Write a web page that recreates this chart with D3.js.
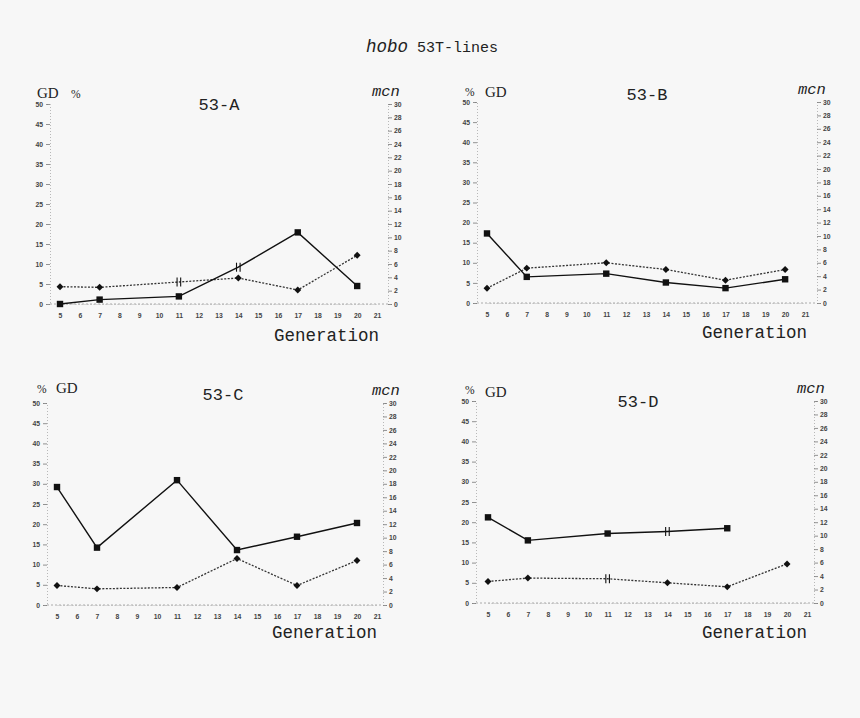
<!DOCTYPE html>
<html><head><meta charset="utf-8">
<script src="https://cdn.jsdelivr.net/npm/d3@7"></script>
<style>
html,body{margin:0;padding:0;background:#f7f7f7;}
svg{display:block;}
</style></head>
<body>
<svg id="chart" width="860" height="718"></svg>
<script>
// ---- data ----
const gdTicks = [0,5,10,15,20,25,30,35,40,45,50];
const mcnTicks = [0,2,4,6,8,10,12,14,16,18,20,22,24,26,28,30];
const genTicks = [5,6,7,8,9,10,11,12,13,14,15,16,17,18,19,20,21];

const panelNames = ["53-A","53-B","53-C","53-D"];

const genA_gd = [5,7,11,14,17,20];
const valA_gd = [0,1.1,1.9,9.2,17.9,4.5];
const genA_mcn = [5,7,11,14,17,20];
const valA_mcn = [2.6,2.5,3.3,3.9,2.1,7.3];
const breakA_gd = [14];
const breakA_mcn = [11];

const genB_gd = [5,7,11,14,17,20];
const valB_gd = [17.3,6.5,7.3,5.1,3.7,5.9];
const genB_mcn = [5,7,11,14,17,20];
const valB_mcn = [2.2,5.2,6.0,5.0,3.4,5.0];
const breakB_gd = [];
const breakB_mcn = [];

const genC_gd = [5,7,11,14,17,20];
const valC_gd = [29.2,14.2,30.9,13.6,16.9,20.3];
const genC_mcn = [5,7,11,14,17,20];
const valC_mcn = [2.9,2.4,2.6,6.9,2.9,6.6];
const breakC_gd = [];
const breakC_mcn = [];

const genD_gd = [5,7,11,14,17];
const valD_gd = [21.2,15.5,17.2,17.7,18.5];
const genD_mcn = [5,7,11,14,17,20];
const valD_mcn = [3.2,3.7,3.6,3.0,2.4,5.8];
const breakD_gd = [14];
const breakD_mcn = [11];

// ---- layout ----
const layouts = [
  {x5:60, x21:377, yb:304, yt:104, lx:50, rx:388,
   gd:[37,98], pct:[71,98], name:[219,110], mcn:[372,96], gen:[274,341]},
  {x5:487, x21:805, yb:303, yt:102, lx:477, rx:817,
   gd:[485,97], pct:[465,96], name:[647,100], mcn:[798,94], gen:[702,338]},
  {x5:57, x21:377, yb:605, yt:403, lx:47, rx:383,
   gd:[56,393], pct:[37,393], name:[223,400], mcn:[372,395], gen:[272,638]},
  {x5:488, x21:807, yb:603, yt:401, lx:476, rx:814,
   gd:[485,397], pct:[465,394], name:[638,407], mcn:[797,393], gen:[702,638]}
];

const series = [
  {gdG:genA_gd, gdV:valA_gd, mG:genA_mcn, mV:valA_mcn, gdB:breakA_gd, mB:breakA_mcn},
  {gdG:genB_gd, gdV:valB_gd, mG:genB_mcn, mV:valB_mcn, gdB:breakB_gd, mB:breakB_mcn},
  {gdG:genC_gd, gdV:valC_gd, mG:genC_mcn, mV:valC_mcn, gdB:breakC_gd, mB:breakC_mcn},
  {gdG:genD_gd, gdV:valD_gd, mG:genD_mcn, mV:valD_mcn, gdB:breakD_gd, mB:breakD_mcn}
];

const svg = d3.select("#chart");
const mono = "'Liberation Mono','DejaVu Sans Mono',monospace";
const serif = "'Liberation Serif','DejaVu Serif',serif";
const sans = "'Liberation Sans',Arial,sans-serif";

// main title
const t = svg.append("text").attr("x",432).attr("y",52).attr("text-anchor","middle")
  .attr("fill","#222");
t.append("tspan").attr("font-family",mono).attr("font-style","italic").attr("font-size",17.5).text("hobo");
t.append("tspan").attr("font-family",mono).attr("font-size",15).text(" 53T-lines");

layouts.forEach((L,i)=>{
  const S = series[i];
  const g = svg.append("g");
  const x = d3.scaleLinear().domain([5,21]).range([L.x5,L.x21]);
  const y = d3.scaleLinear().domain([0,50]).range([L.yb,L.yt]);
  const yR = d3.scaleLinear().domain([0,30]).range([L.yb,L.yt]);

  const ax = g.append("g").attr("transform",`translate(${L.lx},0)`)
    .call(d3.axisLeft(y).tickValues(gdTicks).tickSize(4).tickPadding(3));
  const ar = g.append("g").attr("transform",`translate(${L.rx},0)`)
    .call(d3.axisRight(yR).tickValues(mcnTicks).tickSize(4).tickPadding(2));
  const ab = g.append("g").attr("transform",`translate(0,${L.yb})`)
    .call(d3.axisBottom(x).tickValues(genTicks).tickSize(0).tickPadding(9));
  [ax,ar,ab].forEach(a=>{
    a.select(".domain").attr("stroke","#b8b8b8").attr("stroke-dasharray","1,2").attr("stroke-width",1);
    a.selectAll(".tick line").attr("stroke","#777").attr("stroke-width",0.8);
    a.selectAll(".tick text").attr("font-family",sans).attr("font-size",6.8)
      .attr("font-weight","bold").attr("fill","#444");
  });
  g.append("line").attr("x1",L.lx).attr("x2",L.rx).attr("y1",y(0)).attr("y2",y(0))
    .attr("stroke","#aaa").attr("stroke-dasharray","2,2").attr("stroke-width",1);

  const gdData = S.gdG.map((gg,k)=>({g:gg,v:S.gdV[k]}));
  const mData = S.mG.map((gg,k)=>({g:gg,v:S.mV[k]}));
  g.append("path").datum(mData)
    .attr("d",d3.line().x(d=>x(d.g)).y(d=>yR(d.v)))
    .attr("fill","none").attr("stroke","#333").attr("stroke-width",1.3)
    .attr("stroke-dasharray","2,1.5");
  g.append("path").datum(gdData)
    .attr("d",d3.line().x(d=>x(d.g)).y(d=>y(d.v)))
    .attr("fill","none").attr("stroke","#111").attr("stroke-width",1.4);

  g.selectAll(".sq").data(gdData.filter(d=>!S.gdB.includes(d.g))).join("rect")
    .attr("x",d=>x(d.g)-3.2).attr("y",d=>y(d.v)-3.2).attr("width",6.4).attr("height",6.4)
    .attr("fill","#111");
  g.selectAll(".dm").data(mData.filter(d=>!S.mB.includes(d.g))).join("path")
    .attr("d",d3.symbol().type(d3.symbolSquare).size(24))
    .attr("transform",d=>`translate(${x(d.g)},${yR(d.v)}) rotate(45)`)
    .attr("fill","#111");
  const brk = (cx,cy)=>{
    [-1.8,1.8].forEach(dx=>{
      g.append("line").attr("x1",cx+dx).attr("x2",cx+dx).attr("y1",cy-4.5).attr("y2",cy+4.5)
        .attr("stroke","#111").attr("stroke-width",1.1);
    });
  };
  gdData.filter(d=>S.gdB.includes(d.g)).forEach(d=>brk(x(d.g),y(d.v)));
  mData.filter(d=>S.mB.includes(d.g)).forEach(d=>brk(x(d.g),yR(d.v)));

  g.append("text").attr("x",L.gd[0]).attr("y",L.gd[1]).attr("font-family",serif)
    .attr("font-size",15).attr("fill","#222").text("GD");
  g.append("text").attr("x",L.pct[0]).attr("y",L.pct[1]).attr("font-family",serif)
    .attr("font-size",11.5).attr("fill","#222").text("%");
  g.append("text").attr("x",L.name[0]).attr("y",L.name[1]).attr("text-anchor","middle")
    .attr("font-family",mono).attr("font-size",17).attr("fill","#222").text(panelNames[i]);
  g.append("text").attr("x",L.mcn[0]).attr("y",L.mcn[1]).attr("font-family",mono)
    .attr("font-style","italic").attr("font-size",15.5).attr("fill","#222").text("mcn");
  g.append("text").attr("x",L.gen[0]).attr("y",L.gen[1]).attr("font-family",mono)
    .attr("font-size",17.5).attr("fill","#222").text("Generation");
});
</script>
</body></html>
